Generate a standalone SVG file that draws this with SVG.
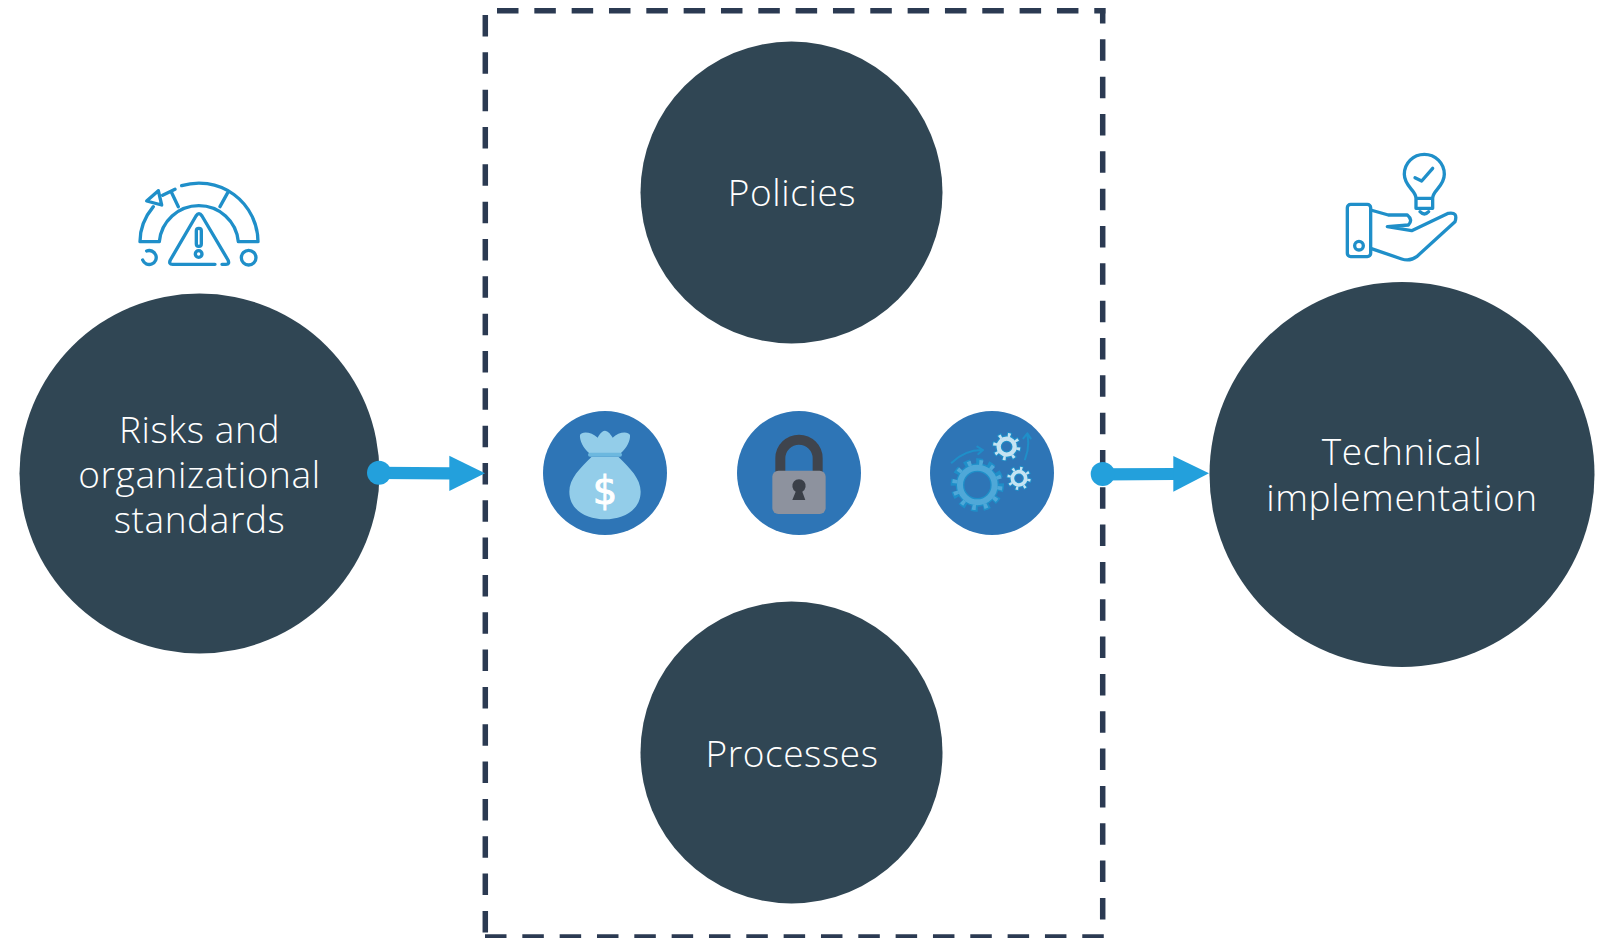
<svg xmlns="http://www.w3.org/2000/svg" width="1601" height="938" viewBox="0 0 1601 938">
<style>
.big{fill:#304654}
.t{font-family:"Open Sans","Noto Sans",sans-serif;font-weight:300;font-size:37px;letter-spacing:.6px;fill:#fff;text-anchor:middle}
.ln{fill:none;stroke:#1f8fc9;stroke-width:10;stroke-linecap:round;stroke-linejoin:round}
.sm{fill:#2e75b6}
.cn{fill:#23a0dc}
.d{fill:none;stroke:#2b3a52;stroke-width:5.5;stroke-dasharray:21.5 15.83}
</style>
<rect width="1601" height="938" fill="#fff"/>
<g id="dashed-box">
<path class="d" d="M497 10.700H1105.400"/>
<path class="d" style="stroke-dashoffset:6" d="M1102.700 8V930"/>
<path class="d" d="M485.300 15V933"/>
<path class="d" d="M485 937H1105"/>
</g>
<g id="risks"><circle class="big" cx="199.500" cy="473.500" r="180"/>
<text class="t" x="199.500" y="443">Risks and</text><text class="t" x="199.500" y="488">organizational</text><text class="t" x="199.500" y="533">standards</text></g>
<g id="policies"><circle class="big" cx="791.500" cy="192.500" r="151"/><text class="t" x="792" y="206">Policies</text></g>
<g id="processes"><circle class="big" cx="791.500" cy="752.500" r="151"/><text class="t" x="792" y="767">Processes</text></g>
<g id="technical"><circle class="big" cx="1402" cy="474.500" r="192.500"/>
<text class="t" x="1402" y="464.500">Technical</text><text class="t" x="1402" y="510.500">implementation</text></g>
<g id="gauge-icon" transform="translate(120 170) scale(.3333)">
<path class="ln" d="M185 47A177 177 0 0 1 414 215H355A119 119 0 0 0 118 215H60C60 175 75 140 100 110M128 76L165 58M155 68L175 110M322 70L300 110"/>
<path class="ln" d="M115 62L80 93L125 105Z"/>
<path class="ln" d="M285 283H158Q145 283 151 270L228 138Q237 124 246 138L324 270Q330 283 318 283H306"/>
<rect class="ln" x="229" y="175" width="15" height="54" rx="7"/>
<circle class="ln" cx="236" cy="252" r="10"/>
<path class="ln" d="M80 243A21 21 0 1 1 68 270"/>
<circle class="ln" cx="386" cy="263" r="22"/>
</g>
<g id="idea-icon" transform="translate(1330 145) scale(.3333)">
<path class="ln" d="M258 160C258 135 223 125 223 88A60 60 0 0 1 343 88C343 125 308 135 308 160V190H258ZM258 160H308M270 200Q283 214 296 200M255 98L275 108L308 70"/>
<rect class="ln" x="52" y="178" width="70" height="157" rx="10"/>
<circle class="ln" cx="87" cy="302" r="13"/>
<path class="ln" d="M122 195L175 210H232Q250 225 235 240L172 245L245 257L355 205Q385 200 375 230L260 335Q240 350 215 342L122 310"/>
</g>
<g id="money">
<circle class="sm" cx="605" cy="473" r="62"/>
<g transform="translate(530 400) scale(.3333)">
<path d="M185 170C150 205 118 235 118 275C118 330 170 358 225 358C280 358 332 330 332 275C332 235 300 205 265 170Z" fill="#93cde9"/>
<path d="M178 160C160 145 148 120 150 105C155 93 185 95 203 113C210 100 220 90 227 93C235 93 243 105 248 113C265 95 295 93 300 105C302 120 290 145 272 160Z" fill="#93cde9"/>
<rect x="174" y="158" width="102" height="12" rx="6" fill="#6cb8df"/>
<text x="225" y="313" font-family="'DejaVu Sans',sans-serif" font-size="115" fill="#fff" stroke="#fff" stroke-width="3" text-anchor="middle">$</text>
</g></g>
<g id="lock">
<circle class="sm" cx="799" cy="473" r="62"/>
<g transform="translate(730 400) scale(.3333)">
<path d="M151 220V175A55 55 0 0 1 263 175V220" fill="none" stroke="#3f444d" stroke-width="30"/>
<rect x="127" y="212" width="160" height="130" rx="18" fill="#8d929e"/>
<path d="M197 275A20 20 0 1 1 217 275L226 300H187Z" fill="#3a3f48"/>
</g></g>
<g id="gears">
<circle class="sm" cx="992" cy="473" r="62"/>
<g transform="translate(920 400) scale(.3333)" fill="none">
<path d="M95 188Q135 150 185 150M172 140L189 150L175 162M315 178Q330 140 322 105M310 115L322 100L332 115" stroke="#1f8fc9" stroke-width="6" stroke-linecap="round" stroke-linejoin="round"/>
<circle cx="172" cy="255" r="52" stroke="#1f8fc9" stroke-width="26"/>
<circle cx="172" cy="255" r="68" stroke="#1f8fc9" stroke-width="24" stroke-dasharray="19 16"/>
<circle cx="172" cy="255" r="52" stroke="#4fa8d8" stroke-width="18"/>
<circle cx="172" cy="255" r="68" stroke="#4fa8d8" stroke-width="15" stroke-dasharray="11 24.600" stroke-dashoffset="-4"/>
<circle cx="260" cy="140" r="24" stroke="#1f8fc9" stroke-width="20"/>
<circle cx="260" cy="140" r="35" stroke="#1f8fc9" stroke-width="18" stroke-dasharray="13 14.500"/>
<circle cx="260" cy="140" r="24" stroke="#c5e3f2" stroke-width="13"/>
<circle cx="260" cy="140" r="35" stroke="#c5e3f2" stroke-width="12" stroke-dasharray="8 19.500" stroke-dashoffset="-2.500"/>
<circle cx="297" cy="235" r="20" stroke="#1f8fc9" stroke-width="18"/>
<circle cx="297" cy="235" r="30" stroke="#1f8fc9" stroke-width="16" stroke-dasharray="11 12.600"/>
<circle cx="297" cy="235" r="20" stroke="#c5e3f2" stroke-width="11"/>
<circle cx="297" cy="235" r="30" stroke="#c5e3f2" stroke-width="10" stroke-dasharray="7 16.600" stroke-dashoffset="-2"/>
</g></g>
<g id="connectors">
<path class="cn" d="M379 466.700L450 467.300V479.500L379 479Z"/><circle class="cn" cx="379" cy="472.700" r="12"/><path class="cn" d="M449.300 455.700L485 473.300L449.300 491Z"/>
<path class="cn" d="M1102 468.300L1174 468V480L1102 480.500Z"/><circle class="cn" cx="1102.700" cy="474" r="12"/><path class="cn" d="M1173.300 456L1209 473.300L1173.300 491.700Z"/>
</g>
</svg>
